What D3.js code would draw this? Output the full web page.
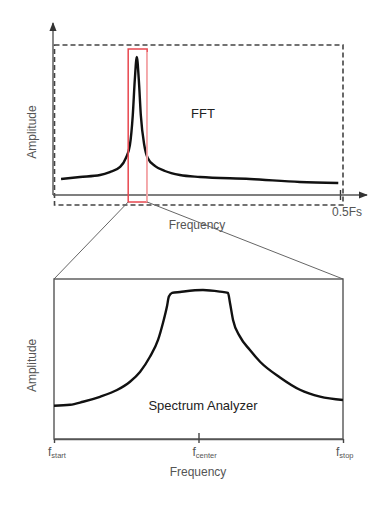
<!DOCTYPE html>
<html>
<head>
<meta charset="utf-8">
<script src="https://cdn.jsdelivr.net/npm/d3@7"></script>
<style>
  body { margin: 0; background: #fff; }
  svg { display: block; font-family: "Liberation Sans", Arial, sans-serif; }
</style>
</head>
<body>
<div id="chart"></div>
<script>
// FFT overview: frequency as a fraction of Fs, amplitude normalised
const fftFreq = [0.014, 0.047, 0.082, 0.099, 0.117, 0.127, 0.134, 0.139, 0.1425, 0.146, 0.1495, 0.153, 0.159, 0.165, 0.178, 0.195, 0.221, 0.256, 0.343, 0.430, 0.497];
const fftAmp  = [0.107, 0.12, 0.133, 0.153, 0.187, 0.247, 0.333, 0.533, 0.767, 0.92, 0.767, 0.533, 0.333, 0.247, 0.193, 0.16, 0.133, 0.12, 0.107, 0.087, 0.08];

// spectrum analyzer zoom: offset from centre, -1 = fstart, 1 = fstop
const saFreq = [-1, -0.889, -0.799, -0.682, -0.564, -0.474, -0.405, -0.336, -0.28, -0.246, -0.218, -0.205, -0.183, -0.128, 0.031, 0.149, 0.204, 0.218, 0.239, 0.287, 0.356, 0.426, 0.564, 0.702, 0.841, 1];
const saAmp  = [0.208, 0.214, 0.233, 0.264, 0.306, 0.358, 0.419, 0.514, 0.619, 0.725, 0.83, 0.89, 0.913, 0.919, 0.931, 0.921, 0.913, 0.85, 0.744, 0.64, 0.556, 0.483, 0.385, 0.308, 0.265, 0.244];

const fftTicks = [{ v: 0.5, label: "0.5Fs" }];
const saTicks = [
    { v: -1, base: "f", sub: "start" },
    { v: 0, base: "f", sub: "center" },
    { v: 1, base: "f", sub: "stop" }
];
const zoomBand = [0.131, 0.164];

const width = 388, height = 510;
const svg = d3.select("#chart").append("svg")
    .attr("width", width)
    .attr("height", height);

const axisColour = "#555";
const textColour = "#555";

// ---------- top panel ----------
const x1 = d3.scaleLinear().domain([0, 0.5]).range([53, 340]);
const y1 = d3.scaleLinear().domain([0, 1]).range([195, 45]);

const fftPanel = svg.append("g");

// dashed frame
fftPanel.append("rect")
    .attr("x", 54.5).attr("y", y1(1))
    .attr("width", 343 - 54.5).attr("height", 205 - y1(1))
    .attr("fill", "none")
    .attr("stroke", "#444")
    .attr("stroke-width", 1.6)
    .attr("stroke-dasharray", "5,3");

// arrow axes
const defs = svg.append("defs");
defs.append("marker")
    .attr("id", "arrow")
    .attr("viewBox", "0 0 10 10")
    .attr("refX", 9).attr("refY", 5)
    .attr("markerWidth", 9).attr("markerHeight", 9)
    .attr("markerUnits", "userSpaceOnUse")
    .attr("orient", "auto")
    .append("path")
    .attr("d", "M0,1 L10,5 L0,9 Z")
    .attr("fill", "#333");

fftPanel.append("line")
    .attr("x1", 53).attr("x2", 53)
    .attr("y1", y1(0)).attr("y2", 23)
    .attr("stroke", axisColour).attr("stroke-width", 1.4)
    .attr("marker-end", "url(#arrow)");

const xAxisTop = fftPanel.append("g")
    .attr("transform", `translate(0,${y1(0)})`)
    .call(d3.axisBottom(x1).tickValues(fftTicks.map(d => d.v)).tickSize(5).tickSizeOuter(0).tickFormat(""));
xAxisTop.select(".domain").remove();
xAxisTop.selectAll("line")
    .attr("y1", -5).attr("y2", 5)
    .attr("stroke", "#333").attr("stroke-width", 1.4);

fftPanel.append("line")
    .attr("x1", 53).attr("x2", 367)
    .attr("y1", y1(0)).attr("y2", y1(0))
    .attr("stroke", axisColour).attr("stroke-width", 1.4)
    .attr("marker-end", "url(#arrow)");

fftPanel.selectAll(".tick-label")
    .data(fftTicks)
    .enter().append("text")
    .attr("x", d => x1(d.v) + 7)
    .attr("y", 216)
    .attr("text-anchor", "middle")
    .style("font-size", "12px")
    .style("fill", textColour)
    .text(d => d.label);

fftPanel.append("text")
    .attr("x", 197).attr("y", 229)
    .attr("text-anchor", "middle")
    .style("font-size", "12px")
    .style("fill", textColour)
    .text("Frequency");

fftPanel.append("text")
    .attr("transform", `translate(36,${y1(0.42)}) rotate(-90)`)
    .attr("text-anchor", "middle")
    .style("font-size", "12px")
    .style("fill", textColour)
    .text("Amplitude");

fftPanel.append("text")
    .attr("x", 203).attr("y", 118)
    .attr("text-anchor", "middle")
    .style("font-size", "13px")
    .style("fill", "#222")
    .text("FFT");

const fftData = fftFreq.map((f, i) => ({ f, a: fftAmp[i] }));
fftPanel.append("path")
    .datum(fftData)
    .attr("fill", "none")
    .attr("stroke", "#111")
    .attr("stroke-width", 2.4)
    .attr("stroke-linejoin", "round")
    .attr("d", d3.line().x(d => x1(d.f)).y(d => y1(d.a)).curve(d3.curveMonotoneX));

// zoom band
const bandTop = 49, bandBottom = 202;
fftPanel.append("rect")
    .attr("x", x1(zoomBand[0])).attr("y", bandTop)
    .attr("width", x1(zoomBand[1]) - x1(zoomBand[0]))
    .attr("height", bandBottom - bandTop)
    .attr("fill", "none")
    .attr("stroke", "#e8474f")
    .attr("stroke-width", 1.5);
fftPanel.append("line")
    .attr("x1", x1(zoomBand[1])).attr("x2", x1(zoomBand[1]))
    .attr("y1", bandTop + 3).attr("y2", bandBottom)
    .attr("stroke", "#f5b4b6")
    .attr("stroke-width", 1.6);

// ---------- bottom panel ----------
const x2 = d3.scaleLinear().domain([-1, 1]).range([54, 343]);
const y2 = d3.scaleLinear().domain([0, 1]).range([439, 279]);

const saPanel = svg.append("g");

// connectors
saPanel.append("line")
    .attr("x1", x1(zoomBand[0])).attr("y1", bandBottom)
    .attr("x2", x2(-1)).attr("y2", y2(1))
    .attr("stroke", "#666").attr("stroke-width", 1);
saPanel.append("line")
    .attr("x1", x1(zoomBand[1])).attr("y1", bandBottom)
    .attr("x2", x2(1)).attr("y2", y2(1))
    .attr("stroke", "#666").attr("stroke-width", 1);

// frame
saPanel.append("rect")
    .attr("x", x2(-1)).attr("y", y2(1))
    .attr("width", x2(1) - x2(-1)).attr("height", y2(0) - y2(1))
    .attr("fill", "none")
    .attr("stroke", "#555")
    .attr("stroke-width", 1.4);

const xAxisBottom = saPanel.append("g")
    .attr("transform", `translate(0,${y2(0)})`)
    .call(d3.axisBottom(x2).tickValues(saTicks.map(d => d.v)).tickSizeOuter(0).tickFormat(""));
xAxisBottom.select(".domain").attr("stroke", "#555").attr("stroke-width", 1.4);
xAxisBottom.selectAll(".tick line")
    .attr("y1", d => d === 0 ? -6 : 0).attr("y2", 4)
    .attr("stroke", "#444").attr("stroke-width", 1.4);

const tickText = saPanel.selectAll(".sa-tick")
    .data(saTicks)
    .enter().append("text")
    .attr("x", d => x2(d.v) + (d.v === 0 ? -6 : d.v < 0 ? -6 : -7))
    .attr("y", 456)
    .style("fill", textColour);
tickText.append("tspan")
    .style("font-size", "12px")
    .text(d => d.base);
tickText.append("tspan")
    .attr("dy", 2)
    .style("font-size", "7.5px")
    .text(d => d.sub);

saPanel.append("text")
    .attr("x", 198).attr("y", 476)
    .attr("text-anchor", "middle")
    .style("font-size", "12px")
    .style("fill", textColour)
    .text("Frequency");

saPanel.append("text")
    .attr("transform", `translate(36,${y2(0.46)}) rotate(-90)`)
    .attr("text-anchor", "middle")
    .style("font-size", "12px")
    .style("fill", textColour)
    .text("Amplitude");

saPanel.append("text")
    .attr("x", 203).attr("y", 410)
    .attr("text-anchor", "middle")
    .style("font-size", "13px")
    .style("fill", "#222")
    .text("Spectrum Analyzer");

const saData = saFreq.map((f, i) => ({ f, a: saAmp[i] }));
saPanel.append("path")
    .datum(saData)
    .attr("fill", "none")
    .attr("stroke", "#111")
    .attr("stroke-width", 2.4)
    .attr("stroke-linejoin", "round")
    .attr("d", d3.line().x(d => x2(d.f)).y(d => y2(d.a)).curve(d3.curveMonotoneX));
</script>
</body>
</html>
